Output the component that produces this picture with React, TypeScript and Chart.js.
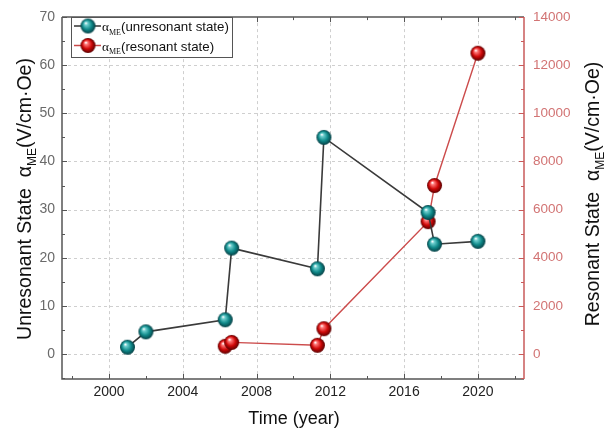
import React, { useEffect, useRef } from "react";
import { Chart, registerables } from "chart.js";

Chart.register(...registerables);

// ---------- data ----------
const unresonantYears = [2001, 2002, 2006.3, 2006.65, 2011.3, 2011.65, 2017.3, 2017.65, 2020];
const unresonantValues = [1.4, 4.6, 7.1, 22, 17.7, 45, 29.4, 22.8, 23.4];
const resonantYears = [2006.3, 2006.65, 2011.3, 2011.65, 2017.3, 2017.65, 2020];
const resonantValues = [320, 480, 360, 1050, 5500, 7000, 12500];

const xTicks = [2000, 2004, 2008, 2012, 2016, 2020];
const xMinorTicks = [1998, 2002, 2006, 2010, 2014, 2018, 2022];
const leftTicks = [0, 10, 20, 30, 40, 50, 60, 70];
const leftMinorTicks = [-5, 5, 15, 25, 35, 45, 55, 65];
const rightTicks = [0, 2000, 4000, 6000, 8000, 10000, 12000, 14000];
const rightMinorTicks = [-1000, 1000, 3000, 5000, 7000, 9000, 11000, 13000];

const xTitle = "Time (year)";
const leftTitle = [{ t: "Unresonant State  α" }, { t: "ME", sub: true }, { t: "(V/cm·Oe)" }];
const rightTitle = [{ t: "Resonant State  α" }, { t: "ME", sub: true }, { t: "(V/cm·Oe)" }];
const legendLabels = ["(unresonant state)", "(resonant state)"];

const X_MIN = 1997.45;
const X_MAX = 2022.5;
const LEFT_MIN = -5.2;
const LEFT_MAX = 70;
const RIGHT_MIN = -1040;
const RIGHT_MAX = 14000;

const SANS = "'Liberation Sans', Arial, sans-serif";
const SERIF = "'Liberation Serif', 'Times New Roman', serif";

function makeSphere(light: string, base: string, dark: string, r: number) {
  const c = document.createElement("canvas");
  const size = Math.ceil(2 * r + 2);
  c.width = size;
  c.height = size;
  const g = c.getContext("2d")!;
  const cx = size / 2;
  const cy = size / 2;
  const grad = g.createRadialGradient(cx - r * 0.3, cy - r * 0.4, r * 0.05, cx, cy, r);
  grad.addColorStop(0, "#ffffff");
  grad.addColorStop(0.18, light);
  grad.addColorStop(0.6, base);
  grad.addColorStop(1, dark);
  g.fillStyle = grad;
  g.beginPath();
  g.arc(cx, cy, r, 0, Math.PI * 2);
  g.fill();
  return c;
}

type Part = { t: string; sub?: boolean; serif?: boolean };

function drawRich(ctx: CanvasRenderingContext2D, x: number, y: number, parts: Part[], size: number, align: "center" | "left", color: string) {
  ctx.save();
  ctx.fillStyle = color;
  ctx.textBaseline = "alphabetic";
  ctx.textAlign = "left";
  const fontFor = (p: Part) => `${p.sub ? Math.round(size * 0.62) : size}px ${p.serif ? SERIF : SANS}`;
  let total = 0;
  for (const p of parts) {
    ctx.font = fontFor(p);
    total += ctx.measureText(p.t).width;
  }
  let cx = align === "center" ? x - total / 2 : x;
  for (const p of parts) {
    ctx.font = fontFor(p);
    ctx.fillText(p.t, cx, y + (p.sub ? size * 0.28 : 0));
    cx += ctx.measureText(p.t).width;
  }
  ctx.restore();
}

const framePlugin = {
  id: "frame",
  beforeDatasetsDraw(chart: any) {
    const { ctx, chartArea: a, scales } = chart;
    const xs = scales.x;
    const yl = scales.yLeft;
    ctx.save();
    ctx.strokeStyle = "#cfcfcf";
    ctx.lineWidth = 1;
    ctx.setLineDash([3, 3]);
    for (const v of xTicks) {
      const px = Math.round(xs.getPixelForValue(v)) + 0.5;
      ctx.beginPath();
      ctx.moveTo(px, a.top);
      ctx.lineTo(px, a.bottom);
      ctx.stroke();
    }
    for (const v of leftTicks) {
      if (v >= LEFT_MAX) continue;
      const py = Math.round(yl.getPixelForValue(v)) + 0.5;
      ctx.beginPath();
      ctx.moveTo(a.left, py);
      ctx.lineTo(a.right, py);
      ctx.stroke();
    }
    ctx.restore();
  },
  afterDatasetsDraw(chart: any) {
    const { ctx, chartArea: a, scales } = chart;
    const xs = scales.x;
    const yl = scales.yLeft;
    const yr = scales.yRight;
    const grey = "#555555";
    const red = "#c85a5a";
    ctx.save();
    ctx.setLineDash([]);
    ctx.lineWidth = 1.5;
    ctx.strokeStyle = grey;
    ctx.beginPath();
    ctx.moveTo(a.left, a.top);
    ctx.lineTo(a.left, a.bottom);
    ctx.lineTo(a.right, a.bottom);
    ctx.moveTo(a.left, a.top);
    ctx.lineTo(a.right, a.top);
    ctx.stroke();
    ctx.strokeStyle = red;
    ctx.beginPath();
    ctx.moveTo(a.right, a.top);
    ctx.lineTo(a.right, a.bottom);
    ctx.stroke();
    ctx.lineWidth = 1;
    const tick = (x1: number, y1: number, x2: number, y2: number) => {
      ctx.beginPath();
      ctx.moveTo(x1, y1);
      ctx.lineTo(x2, y2);
      ctx.stroke();
    };
    ctx.strokeStyle = grey;
    for (const v of xTicks) {
      const px = Math.round(xs.getPixelForValue(v)) + 0.5;
      tick(px, a.bottom, px, a.bottom - 5);
      tick(px, a.top, px, a.top + 5);
    }
    for (const v of xMinorTicks) {
      if (v < X_MIN || v > X_MAX) continue;
      const px = Math.round(xs.getPixelForValue(v)) + 0.5;
      tick(px, a.bottom, px, a.bottom - 3);
      tick(px, a.top, px, a.top + 3);
    }
    for (const v of leftTicks) {
      const py = Math.round(yl.getPixelForValue(v)) + 0.5;
      tick(a.left, py, a.left + 5, py);
    }
    for (const v of leftMinorTicks) {
      if (v < LEFT_MIN || v > LEFT_MAX) continue;
      const py = Math.round(yl.getPixelForValue(v)) + 0.5;
      tick(a.left, py, a.left + 3, py);
    }
    ctx.strokeStyle = red;
    for (const v of rightTicks) {
      const py = Math.round(yr.getPixelForValue(v)) + 0.5;
      tick(a.right, py, a.right - 5, py);
    }
    for (const v of rightMinorTicks) {
      if (v < RIGHT_MIN || v > RIGHT_MAX) continue;
      const py = Math.round(yr.getPixelForValue(v)) + 0.5;
      tick(a.right, py, a.right - 3, py);
    }
    ctx.restore();

    // axis titles
    ctx.save();
    ctx.translate(31, 199);
    ctx.rotate(-Math.PI / 2);
    drawRich(ctx, 0, 0, leftTitle, 19.5, "center", "#111111");
    ctx.restore();

    ctx.save();
    ctx.translate(599, 194);
    ctx.rotate(-Math.PI / 2);
    drawRich(ctx, 0, 0, rightTitle, 19.5, "center", "#111111");
    ctx.restore();

    drawRich(ctx, 294, 424, [{ t: xTitle }], 18, "center", "#111111");

    // legend
    ctx.save();
    ctx.fillStyle = "#ffffff";
    ctx.strokeStyle = "#555555";
    ctx.lineWidth = 1;
    ctx.fillRect(71, 17, 162, 41);
    ctx.strokeRect(71.5, 17.5, 161, 40);
    const rows = [
      { y: 26, line: "#333333", img: chart.data.datasets[0].pointStyle, label: legendLabels[0] },
      { y: 45.5, line: "#c84848", img: chart.data.datasets[1].pointStyle, label: legendLabels[1] },
    ];
    for (const r of rows) {
      ctx.strokeStyle = r.line;
      ctx.lineWidth = 1.5;
      ctx.beginPath();
      ctx.moveTo(74, r.y);
      ctx.lineTo(101, r.y);
      ctx.stroke();
      const img = r.img as HTMLCanvasElement;
      ctx.drawImage(img, 88 - img.width / 2, r.y - img.height / 2);
      drawRich(ctx, 102, r.y + 5, [{ t: "α", serif: true }, { t: "ME", sub: true, serif: true }, { t: r.label }], 13.3, "left", "#111111");
    }
    ctx.restore();
  },
};

export default function App() {
  const ref = useRef<HTMLCanvasElement | null>(null);
  useEffect(() => {
    if (!ref.current) return;
    const teal = makeSphere("#6fcfcf", "#0f8a8a", "#063f44", 7.5);
    const redBall = makeSphere("#ff7a7a", "#d00808", "#5a0000", 7.5);
    const chart = new Chart(ref.current, {
      type: "line",
      data: {
        datasets: [
          {
            label: "unresonant",
            data: unresonantYears.map((x, i) => ({ x, y: unresonantValues[i] })),
            yAxisID: "yLeft",
            borderColor: "#3a3a3a",
            borderWidth: 1.6,
            pointStyle: teal as any,
            pointRadius: 7,
            tension: 0,
          },
          {
            label: "resonant",
            data: resonantYears.map((x, i) => ({ x, y: resonantValues[i] })),
            yAxisID: "yRight",
            borderColor: "#cc4c4c",
            borderWidth: 1.4,
            pointStyle: redBall as any,
            pointRadius: 7,
            tension: 0,
          },
        ],
      },
      options: {
        animation: false,
        responsive: true,
        maintainAspectRatio: false,
        devicePixelRatio: 1,
        layout: { padding: { top: 7, left: 0, right: 0, bottom: 0 } },
        plugins: { legend: { display: false }, tooltip: { enabled: false } },
        scales: {
          x: {
            type: "linear",
            min: X_MIN,
            max: X_MAX,
            afterBuildTicks: (s: any) => {
              s.ticks = xTicks.map((v) => ({ value: v }));
            },
            afterFit: (s: any) => {
              s.height = 50;
            },
            grid: { display: false, drawTicks: false },
            border: { display: false },
            ticks: {
              padding: 5,
              color: "#222222",
              font: { family: SANS, size: 14 },
              callback: (v: any) => String(v),
              maxRotation: 0,
            },
          },
          yLeft: {
            type: "linear",
            position: "left",
            min: LEFT_MIN,
            max: LEFT_MAX,
            afterBuildTicks: (s: any) => {
              s.ticks = leftTicks.map((v) => ({ value: v }));
            },
            afterFit: (s: any) => {
              s.width = 62;
            },
            grid: { display: false, drawTicks: false },
            border: { display: false },
            ticks: {
              padding: 7,
              color: "#6a6a6a",
              font: { family: SANS, size: 14 },
              callback: (v: any) => String(v),
            },
          },
          yRight: {
            type: "linear",
            position: "right",
            min: RIGHT_MIN,
            max: RIGHT_MAX,
            afterBuildTicks: (s: any) => {
              s.ticks = rightTicks.map((v) => ({ value: v }));
            },
            afterFit: (s: any) => {
              s.width = 84;
            },
            grid: { display: false, drawTicks: false },
            border: { display: false },
            ticks: {
              padding: 9,
              color: "#d27474",
              font: { family: SANS, size: 13.5 },
              callback: (v: any) => String(v),
            },
          },
        },
      },
      plugins: [framePlugin],
    });
    return () => chart.destroy();
  }, []);
  return (
    <div style={{ position: "absolute", left: 0, top: 0, width: 608, height: 429, background: "#ffffff" }}>
      <canvas ref={ref} />
    </div>
  );
}
